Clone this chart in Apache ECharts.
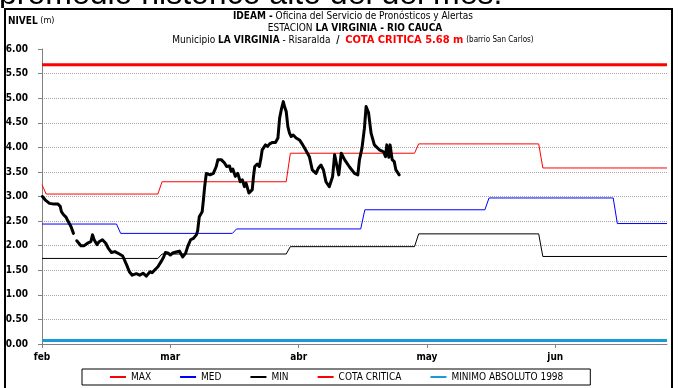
<!DOCTYPE html>
<html>
<head>
<meta charset="utf-8">
<script src="https://cdn.jsdelivr.net/npm/echarts@6/dist/echarts.min.js"></script>
<style>
  html, body { margin: 0; padding: 0; background: #fff; }
  #chart { width: 678px; height: 388px; }
</style>
</head>
<body>
<div id="chart"></div>
<script>
// Fonts
const NARROW = "'Liberation Sans Narrow','Arial Narrow','DejaVu Sans Condensed',sans-serif";
const SANS = "'Liberation Sans',Arial,sans-serif";

// Time axis: days counted from the start of February
const monthLabels = ['feb', 'mar', 'abr', 'may', 'jun'];
const monthTickDays = [0, 31, 62, 93, 124];
const lastDay = 151;

// Monthly historical maximum (step series)
const maxDays   = [0, 1, 28, 29, 59, 60, 90, 91, 120, 121, 151];
const maxLevels = [3.24, 3.05, 3.05, 3.30, 3.30, 3.88, 3.88, 4.07, 4.07, 3.58, 3.58];

// Monthly historical mean
const medDays   = [0, 18, 19, 46, 47, 77, 78, 107, 108, 138, 139, 151];
const medLevels = [2.44, 2.44, 2.25, 2.25, 2.34, 2.34, 2.73, 2.73, 2.97, 2.97, 2.45, 2.45];

// Monthly historical minimum
const minDays   = [0, 28, 29, 59, 60, 90, 91, 120, 121, 151];
const minLevels = [1.74, 1.74, 1.83, 1.83, 1.98, 1.98, 2.24, 2.24, 1.78, 1.78];

// Reference levels
const cotaCritica = 5.68;
const minimoAbsoluto1998 = 0.07;

// Observed river level (null = missing record)
const obsDays = [
  0.1, 0.9, 1.8, 2.6, 3.8, 4.4, 4.7, 5.2, 5.8, 6.2, 6.6, 7.0, 7.6, 8.0,
  8.4, 9.4, 10.2, 11.0, 11.8, 12.2, 12.6, 13.3, 13.8, 14.6, 15.4, 16.0, 16.8, 17.6,
  18.7, 19.5, 19.9, 20.5, 21.1, 21.8, 22.8, 23.6, 24.4, 25.2, 26.1, 26.6, 27.4, 28.0,
  28.8, 29.4, 29.8, 30.4, 31.0, 31.6, 32.4, 33.2, 34.0, 34.7, 35.2, 35.9, 36.6, 37.3,
  37.6, 38.0, 38.7, 39.0, 39.3, 39.7, 40.1, 40.6, 41.4, 42.1, 42.5, 43.3, 44.1, 44.6,
  45.3, 45.7, 46.1, 46.7, 47.3, 47.9, 48.4, 48.9, 49.3, 50.0, 50.4, 50.8, 51.1, 51.4,
  52.0, 52.5, 52.9, 53.2, 54.0, 54.5, 55.0, 55.7, 56.4, 57.0, 57.4, 57.8, 58.0, 58.3,
  58.6, 59.0, 59.4, 59.8, 60.2, 60.7, 61.4, 62.2, 63.0, 63.4, 64.6, 65.3, 66.2, 66.8,
  67.4, 68.0, 68.6, 69.4, 70.2, 70.7, 71.1, 71.7, 72.3, 73.1, 74.3, 75.5, 76.3, 76.7,
  77.3, 77.9, 78.3, 78.9, 79.5, 80.3, 81.5, 82.5, 83.0, 83.3, 83.8, 84.1, 84.6, 85.1,
  85.5, 86.3
];
const obsLevels = [
  3.00, 2.92, 2.86, 2.85, 2.85, 2.80, 2.69, 2.63, 2.58, 2.51, 2.49, 2.39, 2.25, null,
  2.10, 2.00, 2.00, 2.05, 2.08, 2.22, 2.12, 2.02, 2.08, 2.12, 2.05, 1.95, 1.86, 1.88,
  1.83, 1.79, 1.78, 1.60, 1.47, 1.40, 1.43, 1.40, 1.44, 1.38, 1.47, 1.45, 1.52, 1.57,
  1.68, 1.77, 1.86, 1.85, 1.81, 1.85, 1.87, 1.89, 1.77, 1.85, 1.98, 2.12, 2.15, 2.22,
  2.30, 2.59, 2.69, 2.93, 3.20, 3.47, 3.51, 3.44, 3.47, 3.61, 3.75, 3.75, 3.68, 3.61,
  3.62, 3.51, 3.56, 3.41, 3.47, 3.30, 3.34, 3.20, 3.27, 3.07, 3.03, 3.14, 3.41, 3.61,
  3.66, 3.61, 3.78, 3.95, 4.05, 4.02, 4.07, 4.10, 4.10, 4.19, 4.59, 4.76, 4.76, 4.93,
  4.83, 4.73, 4.42, 4.29, 4.22, 4.25, 4.19, 4.15, 4.05, 3.99, 3.81, 3.54, 3.47, 3.58,
  3.64, 3.54, 3.30, 3.20, 3.40, 3.85, 3.68, 3.44, 3.88, 3.75, 3.60, 3.47, 3.44, 3.75,
  3.98, 4.39, 4.83, 4.70, 4.29, 4.05, 3.95, 3.91, 3.81, 4.05, 3.80, 4.05, 3.75, 3.71,
  3.54, 3.44
];

const zip = (xs, ys) => xs.map((x, i) => [x, ys[i]]);

function stepSeries(name, days, levels, color, width, z) {
  return {
    name, type: 'line', data: zip(days, levels),
    symbol: 'none', silent: true, z,
    lineStyle: { color, width }, itemStyle: { color }
  };
}

const chart = echarts.init(document.getElementById('chart'), null, { renderer: 'canvas' });

const option = {
  animation: false,
  backgroundColor: '#fff',
  grid: { left: 42, right: 11, top: 49, bottom: 44 },
  legend: {
    data: ['MAX', 'MED', 'MIN', 'COTA CRITICA', 'MINIMO ABSOLUTO 1998'],
    left: 82, top: 369,
    padding: [3, 27, 3, 27],
    borderColor: '#000', borderWidth: 1, borderRadius: 0,
    itemWidth: 16, itemHeight: 2, itemGap: 28,
    textStyle: { fontFamily: NARROW, fontSize: 10, color: '#000' }
  },
  xAxis: {
    type: 'value', min: 0, max: lastDay, interval: 31,
    axisLine: { lineStyle: { color: '#808080', width: 1 } },
    axisTick: { show: true, length: 4, lineStyle: { color: '#808080' }, customValues: monthTickDays },
    axisLabel: {
      customValues: monthTickDays,
      formatter: v => monthLabels[monthTickDays.indexOf(v)] || '',
      fontFamily: NARROW, fontWeight: 'bold', fontSize: 10, color: '#000', margin: 8
    },
    splitLine: { show: false }
  },
  yAxis: {
    type: 'value', min: 0, max: 6, interval: 0.5,
    axisLine: { show: true, lineStyle: { color: '#808080', width: 1 } },
    axisTick: { show: true, length: 4, lineStyle: { color: '#808080' } },
    axisLabel: {
      formatter: v => v.toFixed(2),
      fontFamily: NARROW, fontWeight: 'bold', fontSize: 10, color: '#000', margin: 14
    },
    splitLine: { show: true, showMaxLine: false, lineStyle: { color: '#a6a6a6', type: 'dotted', width: 1 } }
  },
  series: [
    stepSeries('MINIMO ABSOLUTO 1998', [0, lastDay], [minimoAbsoluto1998, minimoAbsoluto1998], '#1b9ad6', 3, 2),
    stepSeries('COTA CRITICA', [0, lastDay], [cotaCritica, cotaCritica], '#ff0000', 3, 2),
    stepSeries('MIN', minDays, minLevels, '#000000', 1, 3),
    stepSeries('MED', medDays, medLevels, '#0000ff', 1, 3),
    stepSeries('MAX', maxDays, maxLevels, '#ff0000', 1, 3),
    {
      name: 'NIVEL', type: 'line', data: zip(obsDays, obsLevels),
      symbol: 'none', connectNulls: false, silent: true, z: 5,
      lineStyle: { color: '#000', width: 3, join: 'round', cap: 'round' },
      itemStyle: { color: '#000' }
    }
  ],
  graphic: [
    // text of the surrounding page, cut by the top edge
    {
      type: 'text', x: -1, y: 11, silent: true,
      style: { text: 'promedio histórico alto del del mes.', font: '32px ' + SANS, fill: '#000', verticalAlign: 'bottom' }
    },
    // white band under the frame top so only the lower part of that text shows
    {
      type: 'rect', silent: true, z: 99,
      shape: { x: 0, y: 8, width: 678, height: 6 },
      style: { fill: '#fff' }
    },
    // chart frame
    {
      type: 'rect', silent: true, z: 100,
      shape: { x: 5, y: 9, width: 667, height: 400 },
      style: { fill: 'none', stroke: '#000', lineWidth: 2 }
    },
    {
      type: 'text', x: 8, y: 21, silent: true, z: 101,
      style: {
        text: '{b|NIVEL} (m)', font: '9px ' + NARROW, fill: '#000', verticalAlign: 'middle',
        rich: { b: { fontFamily: NARROW, fontWeight: 'bold', fontSize: 10, fill: '#000' } }
      }
    },
    {
      type: 'text', x: 353, y: 16, silent: true, z: 101,
      style: {
        text: '{b|IDEAM -} Oficina del Servicio de Pronósticos y Alertas',
        font: '10px ' + NARROW, fill: '#000', align: 'center', verticalAlign: 'middle',
        rich: { b: { fontFamily: NARROW, fontWeight: 'bold', fontSize: 10, fill: '#000' } }
      }
    },
    {
      type: 'text', x: 355, y: 28, silent: true, z: 101,
      style: {
        text: 'ESTACION {b|LA VIRGINIA - RIO CAUCA}',
        font: '10px ' + NARROW, fill: '#000', align: 'center', verticalAlign: 'middle',
        rich: { b: { fontFamily: NARROW, fontWeight: 'bold', fontSize: 10, fill: '#000' } }
      }
    },
    {
      type: 'text', x: 353, y: 40, silent: true, z: 101,
      style: {
        text: 'Municipio {b|LA VIRGINIA} - Risaralda  {b|/}  {r|COTA CRITICA 5.68 m} {s|(barrio San Carlos)}',
        font: '10px ' + NARROW, fill: '#000', align: 'center', verticalAlign: 'middle',
        rich: {
          b: { fontFamily: NARROW, fontWeight: 'bold', fontSize: 10, fill: '#000' },
          r: { fontFamily: NARROW, fontWeight: 'bold', fontSize: 11, fill: '#ff0000' },
          s: { fontFamily: NARROW, fontSize: 8, fill: '#000' }
        }
      }
    }
  ]
};

chart.setOption(option);
</script>
</body>
</html>
